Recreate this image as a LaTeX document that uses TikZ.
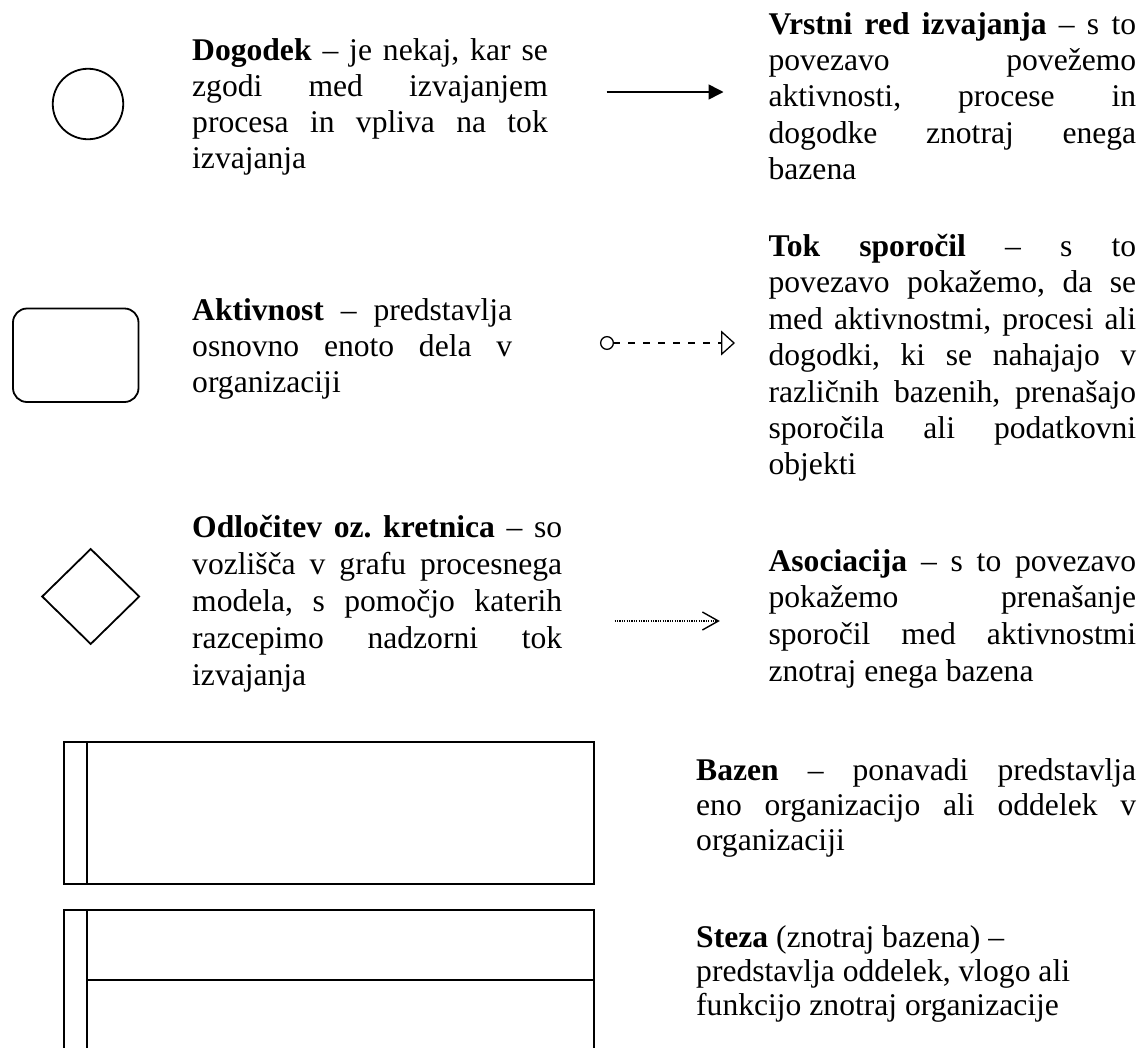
\documentclass[tikz,border=0pt]{standalone}
\usepackage{fontspec}
\setmainfont{Liberation Serif}
\usetikzlibrary{arrows.meta,shapes.geometric}
\frenchspacing

% one justified line spread over the block width, and a plain closing line
\newcommand\fl[1]{\makebox[\linewidth][s]{#1}\par}
\newcommand\lastl[1]{#1\par}
% a legend paragraph: width, line pitch, lines
\newcommand\legendtext[3]{\parbox[t]{#1}{\fontsize{31.6pt}{#2}\selectfont #3}}

\begin{document}
\begin{tikzpicture}[x=1pt,y=-1pt,
  outline/.style={draw=black, line width=1.8pt, inner sep=0pt},
  legend/.style={anchor=base west, inner sep=0pt}]
\useasboundingbox (0,0) rectangle (1143,1047);
\clip (0,0) rectangle (1143,1047);
\fill[white] (0,0) rectangle (1143,1047);

% ---- event ----
\node[outline, circle, minimum size=70.5pt] (event) at (88,104) {};
\node[legend] (eventTxt) at (192,60.5) {\legendtext{355.6pt}{36.1pt}{%
\fl{\textbf{Dogodek} – je nekaj, kar se}%
\fl{zgodi med izvajanjem}%
\fl{procesa in vpliva na tok}%
\lastl{izvajanja}}};

% ---- activity ----
\node[outline, rectangle, rounded corners=14pt, minimum width=125.5pt,
      minimum height=93.5pt] (task) at (75.75,355.25) {};
\node[legend] (taskTxt) at (192,320.5) {\legendtext{320pt}{36pt}{%
\fl{\textbf{Aktivnost} – predstavlja}%
\fl{osnovno enoto dela v}%
\lastl{organizaciji}}};

% ---- gateway ----
\node[outline, diamond, aspect=1, minimum width=97.7pt,
      minimum height=95.7pt] (gateway) at (90.7,596.5) {};
\node[legend] (gatewayTxt) at (192,537.5) {\legendtext{370pt}{37pt}{%
\fl{\textbf{Odločitev oz. kretnica} – so}%
\fl{vozlišča v grafu procesnega}%
\fl{modela, s pomočjo katerih}%
\fl{razcepimo nadzorni tok}%
\lastl{izvajanja}}};

% ---- sequence flow ----
\coordinate (seqFrom) at (606.5,92);
\coordinate (seqTo) at (723.5,92);
\draw[line width=1.6pt, -{Triangle[length=15pt,width=15pt]}] (seqFrom) -- (seqTo);
\node[legend] (seqTxt) at (768.4,34) {\legendtext{367.6pt}{36.4pt}{%
\fl{\textbf{Vrstni red izvajanja} – s to}%
\fl{povezavo povežemo}%
\fl{aktivnosti, procese in}%
\fl{dogodke znotraj enega}%
\lastl{bazena}}};

% ---- message flow ----
\coordinate (msgFrom) at (600,343);
\coordinate (msgTo) at (735,343);
\draw[line width=1.3pt, dash pattern=on 7pt off 8pt,
      {Circle[open,length=14pt,width=14pt]}-{Triangle[open,length=14pt,width=25pt]}]
      (msgFrom) -- (msgTo);
\node[legend] (msgTxt) at (768.4,256.5) {\legendtext{367.6pt}{36.4pt}{%
\fl{\textbf{Tok sporočil} – s to}%
\fl{povezavo pokažemo, da se}%
\fl{med aktivnostmi, procesi ali}%
\fl{dogodki, ki se nahajajo v}%
\fl{različnih bazenih, prenašajo}%
\fl{sporočila ali podatkovni}%
\lastl{objekti}}};

% ---- association ----
\coordinate (assocFrom) at (614.6,621);
\coordinate (assocTo) at (719.8,621);
\draw[line width=1.1pt, dash pattern=on 1.1pt off 1.3pt,
      -{Straight Barb[length=16pt,width=18pt,line width=1.4pt]}]
      (assocFrom) -- (assocTo);
\node[legend] (assocTxt) at (768.4,571) {\legendtext{367.6pt}{36.8pt}{%
\fl{\textbf{Asociacija} – s to povezavo}%
\fl{pokažemo prenašanje}%
\fl{sporočil med aktivnostmi}%
\lastl{znotraj enega bazena}}};

% ---- pool ----
\node[outline, rectangle, anchor=north west, minimum width=530pt,
      minimum height=142pt] (pool) at (63,741) {};
\draw[line width=1.8pt] ([xshift=24.3pt]pool.north west) -- ([xshift=24.3pt]pool.south west);
\node[legend] (poolTxt) at (696,780.5) {\legendtext{440pt}{35.2pt}{%
\fl{\textbf{Bazen} – ponavadi predstavlja}%
\fl{eno organizacijo ali oddelek v}%
\lastl{organizaciji}}};

% ---- lanes inside a pool ----
\node[outline, rectangle, anchor=north west, minimum width=530pt,
      minimum height=160pt] (lanes) at (63,909) {};
\draw[line width=1.8pt] ([xshift=24.3pt]lanes.north west) -- ([xshift=24.3pt]lanes.south west);
\draw[line width=1.8pt] ([xshift=24.3pt,yshift=-71pt]lanes.north west) -- ([yshift=-71pt]lanes.north east);
\node[legend] (laneTxt) at (696,947) {\legendtext{440pt}{34.3pt}{%
\lastl{\textbf{Steza} (znotraj bazena) –}%
\lastl{predstavlja oddelek, vlogo ali}%
\lastl{funkcijo znotraj organizacije}}};
\end{tikzpicture}
\end{document}
